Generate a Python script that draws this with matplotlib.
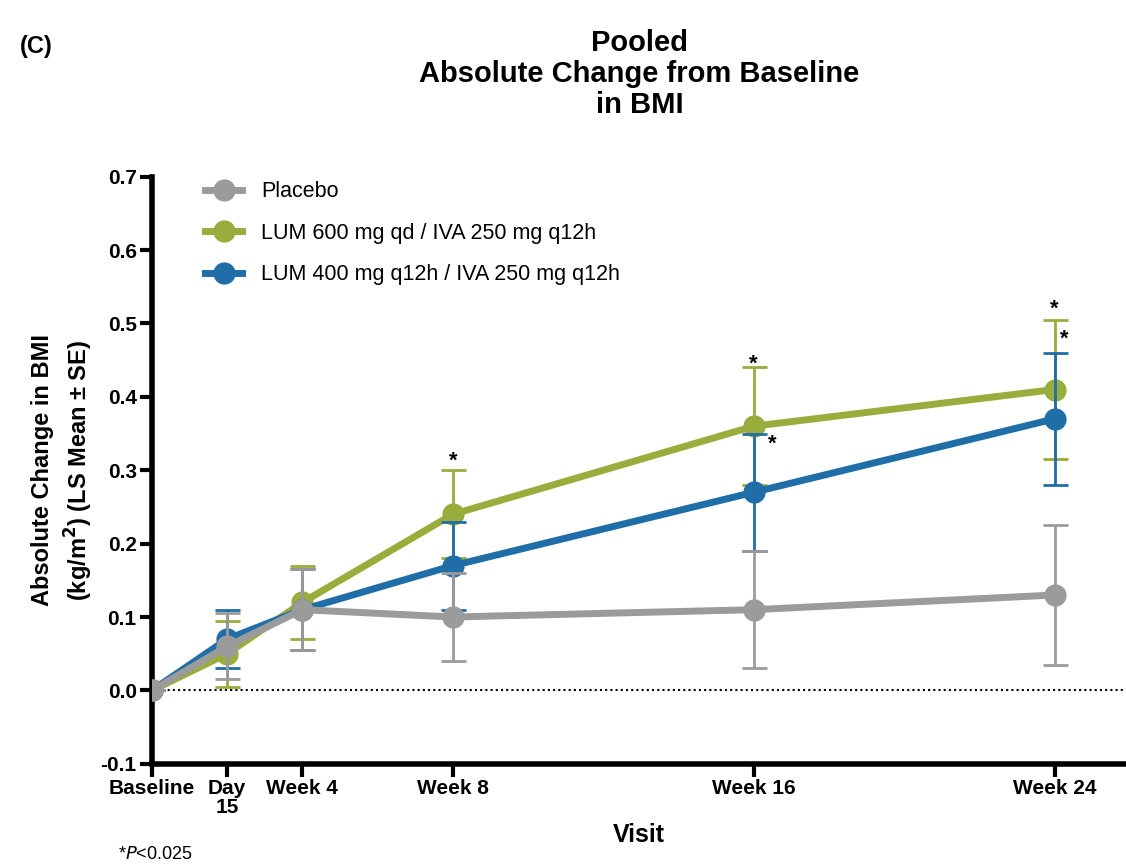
import numpy as np
import matplotlib
matplotlib.use("Agg")
import matplotlib.pyplot as plt
from matplotlib.lines import Line2D

plt.rcParams['font.family'] = ['Liberation Sans', 'DejaVu Sans']

# Dados (semanas desde o baseline)
visitas = ["Baseline", "Day\n15", "Week 4", "Week 8", "Week 16", "Week 24"]
semanas = [0, 2, 4, 8, 16, 24]

placebo = [0.0, 0.06, 0.11, 0.10, 0.11, 0.13]
placebo_se = [0.0, 0.045, 0.055, 0.06, 0.08, 0.095]

lum600 = [0.0, 0.05, 0.12, 0.24, 0.36, 0.41]
lum600_se = [0.0, 0.045, 0.05, 0.06, 0.08, 0.095]

lum400 = [0.0, 0.07, 0.11, 0.17, 0.27, 0.37]
lum400_se = [0.0, 0.04, 0.055, 0.06, 0.08, 0.09]

nomes = ["Placebo", "LUM 600 mg qd / IVA 250 mg q12h", "LUM 400 mg q12h / IVA 250 mg q12h"]
cores = ["#9b9b9b", "#98ad3c", "#1f6ea8"]

fig = plt.figure(figsize=(11.26, 8.66), dpi=100)
ax = fig.add_axes([0.135, 0.118, 0.865, 0.678])

series = [(lum600, lum600_se, 1, 3), (lum400, lum400_se, 2, 4), (placebo, placebo_se, 0, 5)]
for valores, erros, i, z in series:
    ax.errorbar(semanas, valores, yerr=erros, color=cores[i], lw=5, marker='o',
                markersize=15, elinewidth=2, capsize=9, capthick=2, zorder=z)

ax.axhline(0, color='black', ls=(0, (1, 1.5)), lw=1.5, zorder=1)

# Asteriscos de significância
estrelas_x = [8, 16, 24, 16.5, 24.25]
estrelas_y = [0.312, 0.445, 0.52, 0.335, 0.478]
for x, y in zip(estrelas_x, estrelas_y):
    ax.text(x, y, "*", ha='center', va='center', fontsize=16, fontweight='bold')

ax.set_xlim(0, 25.9)
ax.set_ylim(-0.1, 0.7)
ax.set_xticks(semanas)
ax.set_xticklabels(visitas, fontsize=15, fontweight='bold', linespacing=1.0)
ax.set_yticks(np.arange(-0.1, 0.71, 0.1))
ax.set_yticklabels([f"{v:.1f}" for v in np.arange(-0.1, 0.71, 0.1)], fontsize=15, fontweight='bold')
ax.tick_params(axis='both', width=3, length=9, pad=2)

for lado in ['top', 'right']:
    ax.spines[lado].set_visible(False)
for lado in ['left', 'bottom']:
    ax.spines[lado].set_linewidth(4)

ax.set_xlabel("Visit", fontsize=18, fontweight='bold', labelpad=4)
ax.set_ylabel("Absolute Change in BMI\n(kg/m$^\\mathbf{2}$) (LS Mean \u00b1 SE)",
              fontsize=17, fontweight='bold', labelpad=4, linespacing=1.35)

handles = [Line2D([], [], color=c, lw=5, marker='o', markersize=15) for c in cores]
ax.legend(handles, nomes, loc='upper left', bbox_to_anchor=(0.035, 1.025), frameon=False,
          fontsize=15.5, handlelength=1.7, labelspacing=0.95, handletextpad=0.9)

fig.text(0.568, 0.966, "Pooled\nAbsolute Change from Baseline\nin BMI", ha='center', va='top',
         fontsize=21, fontweight='bold', linespacing=1.12)
fig.text(0.018, 0.96, "(C)", fontsize=17, fontweight='bold', va='top')
fig.text(0.105, 0.008, "*$P$<0.025", fontsize=13)

plt.savefig("out.png", dpi=100)
